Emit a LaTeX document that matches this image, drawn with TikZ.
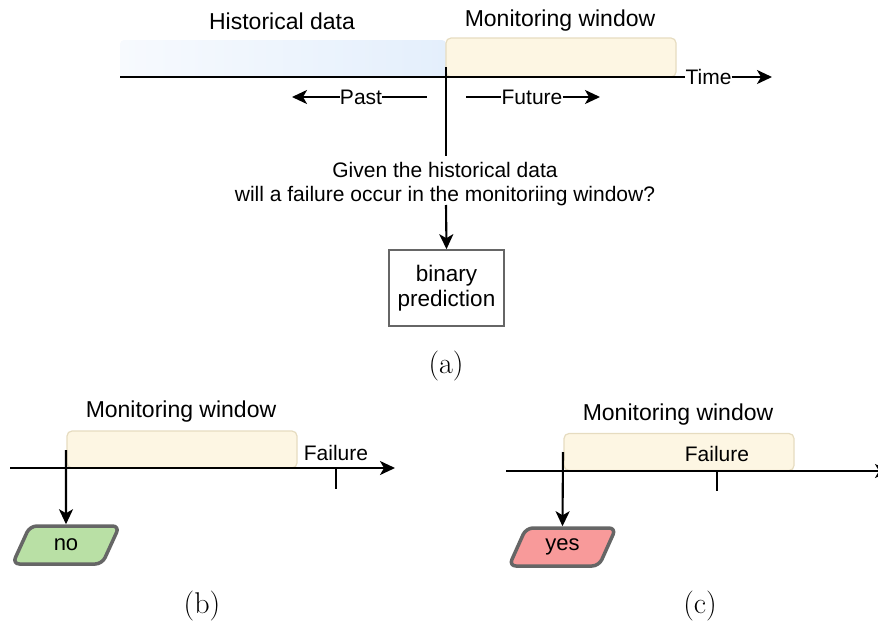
\documentclass[tikz,border=0pt]{standalone}
\usepackage{fontspec}
\usetikzlibrary{arrows.meta,shapes.geometric}
\newfontfamily\arialfont{Liberation Sans}
\definecolor{histpale}{HTML}{F7FAFE}
\definecolor{histblue}{HTML}{E4EFFC}
\definecolor{winfill}{HTML}{FDF6E3}
\definecolor{winline}{HTML}{E6DCC0}
\definecolor{boxgray}{HTML}{666666}
\definecolor{nogreen}{HTML}{B9E0A5}
\definecolor{yesred}{HTML}{F89A9A}
\tikzset{
  x=1pt, y=-1pt,
  lbl/.style={font=\arialfont\fontsize{23}{27}\selectfont, inner sep=0pt},
  tiny/.style={font=\arialfont\fontsize{21}{25}\selectfont, inner sep=0pt},
  axis/.style={line width=2.1pt},
  arr/.style={line width=2.1pt, -{Stealth[length=15pt,width=14pt,inset=4pt]}},
  window/.style={draw=winline, line width=1.2pt, fill=winfill, rounded corners=5pt, inner sep=0pt, minimum width=230pt},
  caption/.style={font=\fontsize{30}{34}\selectfont, inner sep=0pt},
  answer/.style={trapezium, trapezium left angle=64, trapezium right angle=116, trapezium stretches=true,
    draw=boxgray, line width=3.5pt, rounded corners=7pt, minimum width=107pt, minimum height=38pt,
    inner sep=0pt, font=\arialfont\fontsize{22}{26}\selectfont}
}
\begin{document}
\begin{tikzpicture}
\useasboundingbox (0,0) rectangle (878,621);

% ---------- (a) prediction setup ----------
\shade[left color=histpale, right color=histblue, rounded corners=4pt]
  (120,77) -- (120,40) -- (446,40) -- (446,77) [sharp corners] -- cycle;
\node[window, minimum height=39pt] (mw) at (561,57.5) {};
\node[lbl] (hist) at (282,21) {Historical data};
\node[lbl] (mwl) at (560,21) {Monitoring window};

\node[tiny] (time) at (708.5,77) {Time};
\coordinate (origin) at (120,77);
\coordinate (timeend) at (772,77);
\draw[axis] (origin) -- (time.west);
\draw[arr] (time.east) -- (timeend);

\node[tiny] (past) at (361,97) {Past};
\coordinate (pastend) at (292,97);
\coordinate (paststart) at (427,97);
\draw[arr] (past.west) -- (pastend);
\draw[axis] (past.east) -- (paststart);

\node[tiny] (future) at (532,97) {Future};
\coordinate (futstart) at (466,97);
\coordinate (futend) at (600,97);
\draw[axis] (futstart) -- (future.west);
\draw[arr] (future.east) -- (futend);

\node[tiny, align=center, text depth=0pt] (q) at (445,182)
  {Given the historical data\\[-1pt]will a failure occur in the monitoriing window?};
\coordinate (now) at (446,67);
\draw[axis] (now) -- (446,156);

\node[draw=boxgray, line width=1.6pt, minimum width=115pt, minimum height=76pt, align=center,
  font=\arialfont\fontsize{22.5}{25}\selectfont, inner sep=0pt] (bp) at (446.5,288)
  {binary\\prediction};
\draw[arr] (446,205) -- (bp.north);

\node[caption] (capa) at (446,366) {(a)};

% ---------- (b) no failure in the window ----------
\node[lbl] (mwb) at (181,412) {Monitoring window};
\node[window, minimum height=37pt] (wb) at (182,449.5) {};
\coordinate (bstart) at (10,468);
\coordinate (bend) at (395,468);
\draw[arr] (bstart) -- (bend);
\node[tiny] (failb) at (336,453) {Failure};
\draw[axis] (336,468) -- (336,489);
\node[answer, fill=nogreen] (no) at (66,545) {no};
\coordinate (bnow) at (66,450);
\draw[arr] (bnow) -- (no.north);
\node[caption] (capb) at (202,606) {(b)};

% ---------- (c) failure in the window ----------
\node[lbl] (mwc) at (678,415) {Monitoring window};
\node[window, minimum height=37pt] (wc) at (679,452) {};
\coordinate (cstart) at (506,471);
\coordinate (cend) at (890,471);
\draw[arr] (cstart) -- (cend);
\node[tiny] (failc) at (717,454) {Failure};
\draw[axis] (717,471) -- (717,491);
\node[answer, fill=yesred] (yes) at (562.5,547) {yes};
\coordinate (cnow) at (563,452);
\draw[arr] (cnow) -- (yes.north);
\node[caption] (capc) at (700,606) {(c)};
\end{tikzpicture}
\end{document}
